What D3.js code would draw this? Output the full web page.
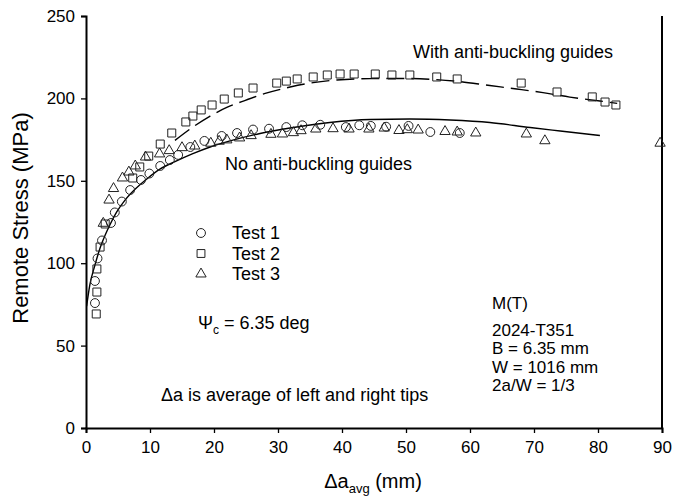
<!DOCTYPE html>
<html>
<head>
<meta charset="utf-8">
<script src="https://cdn.jsdelivr.net/npm/d3@7"></script>
<style>
  html, body { margin: 0; padding: 0; background: #fff; }
  svg { display: block; font-family: "Liberation Sans", Arial, sans-serif; }
</style>
</head>
<body>
<svg id="chart" width="686" height="502"></svg>
<script>
// Crack growth resistance: remote stress vs. average crack extension
const test1 = [[1.4,75.8],[1.4,89.2],[1.8,102.9],[2.5,113.8],[3.9,124.4],[4.5,130.8],[5.6,137.4],[6.9,144.4],[8.6,150.5],[9.9,154.4],[11.6,159.0],[13.1,162.6],[14.4,165.7],[16.3,170.5],[18.5,174.2],[21.2,177.2],[23.6,179.0],[26.1,181.1],[28.6,181.6],[31.3,182.6],[33.8,183.7],[36.6,184.0],[40.6,182.6],[42.7,183.7],[44.5,183.3],[46.9,182.8],[50.4,183.3],[53.8,179.6],[58.4,179.0]];

const test2 = [[1.6,69.2],[1.7,82.5],[1.7,96.5],[2.2,109.8],[3.0,123.8],[7.3,151.7],[8.4,158.4],[9.8,165.0],[11.6,172.3],[13.4,179.0],[15.6,185.7],[16.7,189.3],[18.0,193.0],[19.7,196.0],[21.6,199.6],[23.8,203.3],[26.1,206.3],[29.8,209.3],[31.3,210.5],[33.0,211.8],[35.5,213.0],[37.7,214.2],[39.7,214.8],[41.9,214.8],[45.2,214.8],[47.8,214.2],[50.6,214.2],[54.8,213.0],[58.0,211.8],[68.0,209.3],[73.6,203.9],[79.1,200.9],[81.1,197.8],[82.8,196.0]];

const test3 = [[2.7,124.2],[3.6,138.3],[4.3,145.3],[5.7,151.7],[6.7,155.3],[7.7,159.0],[9.3,164.4],[11.5,166.3],[13.0,168.3],[15.0,170.1],[17.0,171.1],[19.5,172.8],[20.8,174.0],[22.0,174.8],[24.0,176.0],[25.8,177.4],[28.9,178.2],[30.7,178.4],[32.4,179.2],[33.6,180.4],[35.9,181.4],[38.6,181.6],[41.1,181.4],[44.2,181.4],[46.6,182.0],[48.9,180.5],[50.2,181.0],[51.9,180.8],[56.1,179.9],[58.0,179.6],[60.9,179.0],[68.8,178.4],[71.7,174.3],[89.7,172.8]];

// Fitted resistance curves
const fitNoGuides = [[0.1,74.0],[0.6,86.8],[1.4,98.9],[2.2,109.2],[3.0,117.1],[3.8,123.8],[4.8,131.1],[6.1,138.3],[7.7,145.0],[9.5,151.1],[11.6,157.2],[13.9,161.6],[16.6,166.3],[19.4,170.5],[22.5,174.2],[27.2,178.7],[31.9,182.0],[38.1,185.4],[44.4,187.2],[50.6,187.5],[56.9,186.9],[63.1,185.4],[69.4,182.3],[74.1,180.2],[80.3,177.5]];

const fitWithGuides = [[13.9,174.5],[16.7,182.6],[19.4,189.3],[22.0,194.5],[24.8,198.7],[28.0,203.0],[31.9,206.9],[35.5,209.6],[39.2,211.2],[44.4,212.0],[49.5,212.1],[53.8,211.6],[58.0,210.4],[63.1,207.8],[67.3,205.7],[71.4,203.5],[75.6,200.8],[80.3,198.4],[83.0,197.0]];

const xTicks = [0,10,20,30,40,50,60,70,80,90];
const yTicks = [0,50,100,150,200,250];

const legendItems = [
  { label: "Test 1", symbol: d3.symbolCircle },
  { label: "Test 2", symbol: d3.symbolSquare },
  { label: "Test 3", symbol: d3.symbolTriangle }
];

const specLines = ["2024-T351", "B = 6.35 mm", "W = 1016 mm", "2a/W = 1/3"];

const svg = d3.select("#chart");
const plotLeft = 86, plotRight = 662, plotTop = 16, plotBottom = 428;

const x = d3.scaleLinear().domain([0, 90]).range([plotLeft, plotRight]);
const y = d3.scaleLinear().domain([0, 250]).range([plotBottom, plotTop]);

// Axes
const xAxis = svg.append("g")
  .attr("transform", `translate(0,${plotBottom})`)
  .call(d3.axisBottom(x).tickValues(xTicks).tickSize(5).tickPadding(5));
const yAxis = svg.append("g")
  .attr("transform", `translate(${plotLeft},0)`)
  .call(d3.axisLeft(y).tickValues(yTicks).tickSize(5).tickPadding(6));
[xAxis, yAxis].forEach(g => {
  g.select(".domain").attr("stroke", "#000").attr("stroke-width", 2);
  g.selectAll(".tick line").attr("stroke", "#000").attr("stroke-width", 1.3);
  g.selectAll(".tick text").attr("font-size", 17).attr("fill", "#000")
    .attr("font-family", "Liberation Sans, Arial, sans-serif");
});
xAxis.selectAll(".tick text").attr("dy", "0.9em");

// Right frame line
svg.append("line")
  .attr("x1", x(90)).attr("x2", x(90))
  .attr("y1", y(250)).attr("y2", y(0))
  .attr("stroke", "#000").attr("stroke-width", 2);

// Axis titles
svg.append("text")
  .attr("transform", "translate(28,218) rotate(-90)")
  .attr("text-anchor", "middle")
  .attr("font-size", 22)
  .text("Remote Stress (MPa)");

const xt = svg.append("text")
  .attr("x", 373)
  .attr("y", 488)
  .attr("text-anchor", "middle")
  .attr("font-size", 20);
xt.append("tspan").text("Δa");
xt.append("tspan").attr("font-size", 13).attr("dy", 5).text("avg");
xt.append("tspan").attr("dy", -5).text(" (mm)");

// Curves
const line = d3.line().x(d => x(d[0])).y(d => y(d[1])).curve(d3.curveMonotoneX);
svg.append("path").datum(fitNoGuides)
  .attr("d", line).attr("fill", "none")
  .attr("stroke", "#000").attr("stroke-width", 1.4);
svg.append("path").datum(fitWithGuides)
  .attr("d", line).attr("fill", "none")
  .attr("stroke", "#000").attr("stroke-width", 1.4)
  .attr("stroke-dasharray", "18,7");

// Data markers (open symbols)
function drawMarkers(data, type, size) {
  const sym = d3.symbol().type(type).size(size);
  svg.append("g").selectAll("path").data(data).join("path")
    .attr("transform", d => `translate(${x(d[0])},${y(d[1])})`)
    .attr("d", sym)
    .attr("fill", "none")
    .attr("stroke", "#222")
    .attr("stroke-width", 1);
}
drawMarkers(test1, d3.symbolCircle, 62);
drawMarkers(test2, d3.symbolSquare, 64);
drawMarkers(test3, d3.symbolTriangle, 46);

// Legend
const legend = svg.append("g");
legendItems.forEach((item, i) => {
  const cy = 233 + i * 20.5;
  legend.append("path")
    .attr("transform", `translate(201,${cy})`)
    .attr("d", d3.symbol().type(item.symbol).size(item.symbol === d3.symbolTriangle ? 46 : 62)())
    .attr("fill", "none").attr("stroke", "#222").attr("stroke-width", 1);
  legend.append("text")
    .attr("x", 232).attr("y", cy + 6)
    .attr("font-size", 18)
    .text(item.label);
});

// Annotations
svg.append("text").attr("x", 413).attr("y", 58).attr("font-size", 18)
  .text("With anti-buckling guides");
svg.append("text").attr("x", 225).attr("y", 170).attr("font-size", 18)
  .text("No anti-buckling guides");

const psi = svg.append("text").attr("x", 198).attr("y", 329).attr("font-size", 18);
psi.append("tspan").text("Ψ");
psi.append("tspan").attr("font-size", 12).attr("dy", 5).text("c");
psi.append("tspan").attr("dy", -5).text(" = 6.35 deg");

svg.append("text").attr("x", 161).attr("y", 401).attr("font-size", 18)
  .text("Δa is average of left and right tips");

svg.append("text").attr("x", 492).attr("y", 309).attr("font-size", 17).text("M(T)");
specLines.forEach((t, i) => {
  svg.append("text").attr("x", 492).attr("y", 336 + i * 18.3)
    .attr("font-size", 17).text(t);
});
</script>
</body>
</html>
